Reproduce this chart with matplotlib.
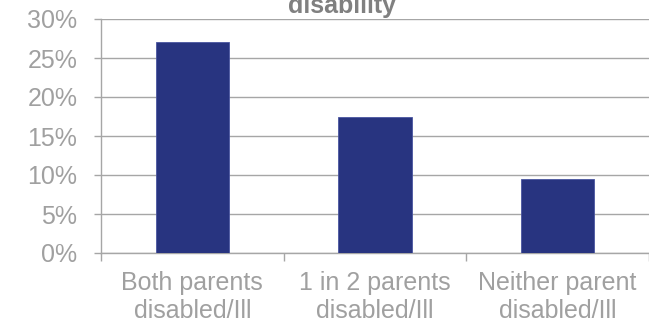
import matplotlib
matplotlib.use("Agg")
import matplotlib.pyplot as plt
from matplotlib.ticker import FuncFormatter, FixedLocator

plt.rcParams['font.family'] = ['Liberation Sans', 'DejaVu Sans']

# データ
categories = ["Both parents\ndisabled/Ill", "1 in 2 parents\ndisabled/Ill", "Neither parent\ndisabled/Ill"]
values = [27.1, 17.5, 9.5]
y_ticks = [0, 5, 10, 15, 20, 25, 30]
title_text = "disability"

bar_color = "#283480"
grey_text = "#a0a0a0"
grid_color = "#a6a6a6"

fig = plt.figure(figsize=(6.49, 3.24), dpi=100)
ax = fig.add_axes([101 / 649, 71 / 324, 548 / 649, 234 / 324])

x = range(len(categories))
ax.bar(x, values, width=0.4, color=bar_color, edgecolor="#4a55a0", linewidth=0.6, zorder=3)

ax.set_xlim(-0.5, len(categories) - 0.5)
ax.set_ylim(0, 30)
ax.yaxis.set_major_locator(FixedLocator(y_ticks))
ax.yaxis.set_major_formatter(FuncFormatter(lambda v, p: f"{v:.0f}%"))
ax.grid(axis="y", color=grid_color, linewidth=1.0, zorder=0)

# x軸: 区切りに目盛り、ラベルは中央
ax.set_xticks([i - 0.5 for i in range(len(categories) + 1)])
ax.set_xticklabels([])
ax.set_xticks(list(x), minor=True)
ax.set_xticklabels(categories, minor=True, fontsize=18, color=grey_text, linespacing=1.2)
ax.tick_params(axis="x", which="major", length=6, color=grid_color, width=1)
ax.tick_params(axis="x", which="minor", length=0, pad=13)
ax.tick_params(axis="y", length=5, color=grid_color, width=1, labelsize=18, labelcolor=grey_text, pad=12)

for side in ["top", "right"]:
    ax.spines[side].set_visible(False)
ax.spines["left"].set_color(grid_color)
ax.spines["bottom"].set_color(grid_color)
ax.spines["left"].set_linewidth(1.0)
ax.spines["bottom"].set_linewidth(1.0)

# タイトル（元画像でも上部が切れている）
fig.text(342 / 649, 1 - 13 / 324, title_text, ha="center", va="baseline",
         fontsize=18, fontweight="bold", color="#808080")

fig.savefig("out.png", dpi=100)
